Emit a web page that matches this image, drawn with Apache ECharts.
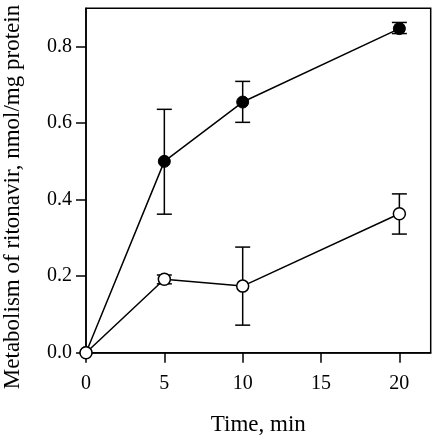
<!DOCTYPE html>
<html>
<head>
<meta charset="utf-8">
<script src="https://cdn.jsdelivr.net/npm/echarts@6/dist/echarts.min.js"></script>
<style>html,body{margin:0;padding:0;background:#fff}#c{width:433px;height:440px}</style>
</head>
<body>
<div id="c"></div>
<script>
// Data
var times = [0, 5, 10, 20];
var filledMean = [0, 0.50, 0.655, 0.847];
var filledLow = [null, 0.362, 0.602, 0.834];
var filledHigh = [null, 0.636, 0.709, 0.863];
var openMean = [0, 0.192, 0.174, 0.363];
var openLow = [null, 0.180, 0.072, 0.310];
var openHigh = [null, 0.203, 0.276, 0.415];
var xTicks = [0, 5, 10, 15, 20];
var yTicks = [0, 0.2, 0.4, 0.6, 0.8];

function pts(m) { return times.map(function (t, i) { return [t, m[i]]; }); }
function errData(lo, hi) {
  var out = [];
  times.forEach(function (t, i) { if (lo[i] != null) out.push([t, lo[i], hi[i]]); });
  return out;
}
function errRender(params, api) {
  var x = api.value(0);
  var lo = api.coord([x, api.value(1)]);
  var hi = api.coord([x, api.value(2)]);
  var hw = 7.5;
  var st = { stroke: '#000', lineWidth: 1.5 };
  return {
    type: 'group',
    children: [
      { type: 'line', shape: { x1: lo[0], y1: lo[1], x2: hi[0], y2: hi[1] }, style: st },
      { type: 'line', shape: { x1: lo[0] - hw, y1: lo[1], x2: lo[0] + hw, y2: lo[1] }, style: st },
      { type: 'line', shape: { x1: hi[0] - hw, y1: hi[1], x2: hi[0] + hw, y2: hi[1] }, style: st }
    ]
  };
}
var font = '"Liberation Serif", "Times New Roman", serif';
var chart = echarts.init(document.getElementById('c'), null, { renderer: 'canvas' });
chart.setOption({
  animation: false,
  backgroundColor: '#fff',
  grid: { left: 86, right: 2.3, top: 8.3, bottom: 87.3, containLabel: false, outerBoundsMode: 'none',
    show: true, borderColor: '#000', borderWidth: 1.5, backgroundColor: 'transparent' },
  xAxis: {
    type: 'value', min: 0, max: 22,
    name: 'Time, min', nameLocation: 'middle', nameGap: 61, nameMoveOverlap: false,
    nameTextStyle: { fontFamily: font, fontSize: 23, color: '#000' },
    axisLine: { show: true, lineStyle: { color: '#000', width: 1.5 } },
    axisTick: { show: true, inside: false, length: 10, lineStyle: { color: '#000', width: 1.5 }, customValues: xTicks },
    axisLabel: { fontFamily: font, fontSize: 20, color: '#000', margin: 21, customValues: xTicks },
    splitLine: { show: false }
  },
  yAxis: {
    type: 'value', min: 0, max: 0.9,
    name: 'Metabolism of ritonavir, nmol/mg protein', nameLocation: 'middle', nameGap: 62, nameMoveOverlap: false,
    nameTextStyle: { fontFamily: font, fontSize: 23, color: '#000', padding: [0, 33, 0, 0] },
    axisLine: { show: true, lineStyle: { color: '#000', width: 1.5 } },
    axisTick: { show: true, inside: false, length: 10, lineStyle: { color: '#000', width: 1.5 }, customValues: yTicks },
    axisLabel: { fontFamily: font, fontSize: 20, color: '#000', margin: 14, customValues: yTicks, formatter: function (v) { return v.toFixed(1); } },
    splitLine: { show: false }
  },
  series: [
    { type: 'custom', renderItem: errRender, data: errData(filledLow, filledHigh), encode: { x: 0, y: [1, 2] }, z: 1 },
    { type: 'custom', renderItem: errRender, data: errData(openLow, openHigh), encode: { x: 0, y: [1, 2] }, z: 1 },
    { type: 'line', data: pts(filledMean), symbol: 'circle', symbolSize: 12, showAllSymbol: true,
      lineStyle: { color: '#000', width: 1.5 }, itemStyle: { color: '#000', borderColor: '#000', borderWidth: 1 }, z: 3 },
    { type: 'line', data: pts(openMean), symbol: 'circle', symbolSize: 12, showAllSymbol: true,
      lineStyle: { color: '#000', width: 1.5 }, itemStyle: { color: '#fff', borderColor: '#000', borderWidth: 1.5 }, z: 4 }
  ]
});
</script>
</body>
</html>
